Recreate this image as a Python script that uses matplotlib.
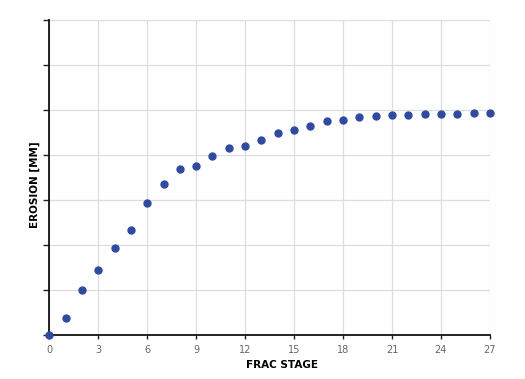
import matplotlib
matplotlib.use('Agg')
import matplotlib.pyplot as plt

frac_stage = list(range(28))
erosion = [0.0, 0.38, 1.00, 1.44, 1.94, 2.34, 2.94, 3.36, 3.70, 3.75,
           3.99, 4.15, 4.20, 4.34, 4.48, 4.56, 4.64, 4.76, 4.78, 4.84,
           4.87, 4.90, 4.90, 4.91, 4.91, 4.92, 4.93, 4.93]
x_ticks = [0, 3, 6, 9, 12, 15, 18, 21, 24, 27]
y_ticks = [0, 1, 2, 3, 4, 5, 6, 7]

fig = plt.figure(figsize=(5.25, 3.79), dpi=100)
ax = fig.add_axes([0.094, 0.116, 0.839, 0.831])

ax.plot(frac_stage, erosion, linestyle='none', marker='o', markersize=5,
        color='#2f4aa0', clip_on=False, zorder=3)

ax.set_xlim(0, 27)
ax.set_ylim(0, 7)
ax.set_xticks(x_ticks)
ax.set_yticks(y_ticks)
ax.set_yticklabels([])
ax.tick_params(axis='x', labelsize=7, colors='#222222', labelcolor='#666666',
               length=3, width=1, pad=4)
ax.tick_params(axis='y', length=4, width=1, colors='#222222')

ax.grid(True, color='#dddddd', linewidth=0.9)
ax.set_axisbelow(True)
for side in ['top', 'right']:
    ax.spines[side].set_visible(False)
for side in ['left', 'bottom']:
    ax.spines[side].set_linewidth(1.3)
    ax.spines[side].set_color('#111111')

ax.set_xlabel('FRAC STAGE', fontsize=7.5, fontweight='bold')
ax.set_ylabel('EROSION [MM]', fontsize=7.5, fontweight='bold')
ax.xaxis.set_label_coords(0.528, -0.078)
ax.yaxis.set_label_coords(-0.022, 0.476)

fig.savefig('out.png', dpi=100)
